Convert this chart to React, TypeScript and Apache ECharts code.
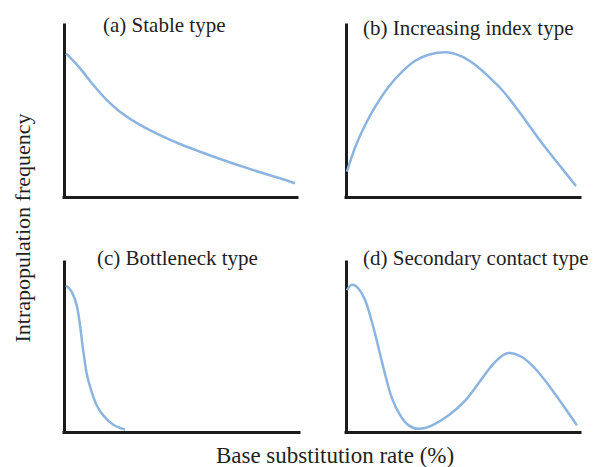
import React, { useEffect, useRef } from "react";
import * as echarts from "echarts";

// Panel titles
const panelTitles = ["(a) Stable type", "(b) Increasing index type", "(c) Bottleneck type", "(d) Secondary contact type"];
const xAxisName = "Base substitution rate (%)";
const yAxisName = "Intrapopulation frequency";

// Curves: [x, y] in relative units (0-100)
const stableCurve = [
  [0.9, 83.5], [6.9, 74.8], [12.6, 65.1], [18.3, 56.4], [24.0, 49.6], [32.6, 41.9],
  [41.2, 36.0], [49.8, 30.8], [58.4, 26.3], [67.0, 22.1], [75.5, 18.2], [84.1, 14.4],
  [92.7, 10.9], [99.1, 8.0],
];
const increasingCurve = [
  [0.4, 14.7], [4.0, 29.2], [8.2, 41.9], [12.5, 52.5], [18.2, 64.1], [23.9, 72.8],
  [29.6, 79.2], [35.3, 82.7], [42.4, 84.1], [49.6, 81.6], [55.3, 76.7], [61.0, 69.9],
  [66.7, 62.2], [72.4, 52.5], [78.1, 41.9], [83.8, 31.2], [91.5, 18.0], [98.3, 6.4],
];
const bottleneckCurve = [
  [0.9, 86.3], [3.3, 82.4], [5.4, 74.5], [6.8, 62.8], [8.2, 47.8], [9.7, 34.1],
  [11.8, 23.5], [13.9, 15.7], [16.7, 9.8], [21.0, 4.3], [26.0, 1.4],
];
const secondaryCurve = [
  [0.4, 83.4], [2.6, 86.6], [5.4, 84.3], [8.2, 77.5], [11.1, 64.7], [14.0, 49.0],
  [16.8, 33.4], [19.7, 19.6], [23.2, 9.8], [26.8, 3.9], [31.1, 1.9], [36.8, 3.9],
  [43.9, 9.8], [51.0, 18.6], [58.1, 31.4], [63.8, 41.2], [69.5, 46.5], [75.2, 44.1],
  [80.9, 37.2], [86.6, 27.5], [92.3, 16.6], [98.7, 3.9],
];

const curves = [stableCurve, increasingCurve, bottleneckCurve, secondaryCurve];

const grids = [
  { left: 64, top: 25, width: 233, height: 172 },
  { left: 346, top: 25, width: 234, height: 172 },
  { left: 64, top: 262, width: 235, height: 170 },
  { left: 346, top: 262, width: 234, height: 170 },
];
const titlePos = [
  { x: 103, y: 25 },
  { x: 363, y: 28 },
  { x: 97, y: 258 },
  { x: 363, y: 258 },
];

const FONT = "Liberation Serif";
const TEXT_COLOR = "#231f20";

export default function App() {
  const ref = useRef<HTMLDivElement>(null);
  useEffect(() => {
    if (!ref.current) return;
    const chart = echarts.init(ref.current, null, { renderer: "svg" });
    const axisLine = { show: true, onZero: false, lineStyle: { color: "#1c1c1c", width: 3, cap: "square" } };
    chart.setOption({
      animation: false,
      backgroundColor: "#ffffff",
      grid: grids.map((g) => ({ ...g, containLabel: false })),
      xAxis: grids.map((_, i) => ({
        type: "value",
        gridIndex: i,
        min: 0,
        max: 100,
        axisLine,
        axisTick: { show: false },
        axisLabel: { show: false },
        splitLine: { show: false },
      })),
      yAxis: grids.map((_, i) => ({
        type: "value",
        gridIndex: i,
        min: 0,
        max: 100,
        axisLine,
        axisTick: { show: false },
        axisLabel: { show: false },
        splitLine: { show: false },
      })),
      series: curves.map((c, i) => ({
        type: "line",
        xAxisIndex: i,
        yAxisIndex: i,
        data: c,
        smooth: 0.35,
        showSymbol: false,
        symbol: "none",
        lineStyle: { color: "#8cb4e0", width: 2.5 },
      })),
      graphic: [
        ...panelTitles.map((t, i) => ({
          type: "text",
          x: titlePos[i].x,
          y: titlePos[i].y,
          style: {
            text: t,
            fontFamily: FONT,
            fontSize: 21,
            fill: TEXT_COLOR,
            align: "left",
            verticalAlign: "middle",
          },
        })),
        {
          type: "text",
          x: 335,
          y: 455,
          style: {
            text: xAxisName,
            fontFamily: FONT,
            fontSize: 23,
            fill: TEXT_COLOR,
            align: "center",
            verticalAlign: "middle",
          },
        },
        {
          type: "text",
          x: 22,
          y: 228,
          rotation: Math.PI / 2,
          style: {
            text: yAxisName,
            fontFamily: FONT,
            fontSize: 22,
            fill: TEXT_COLOR,
            align: "center",
            verticalAlign: "middle",
          },
        },
      ],
    });
    return () => chart.dispose();
  }, []);
  return (
    <div
      ref={ref}
      style={{ position: "fixed", left: 0, top: 0, width: 595, height: 467, background: "#fff" }}
    />
  );
}
